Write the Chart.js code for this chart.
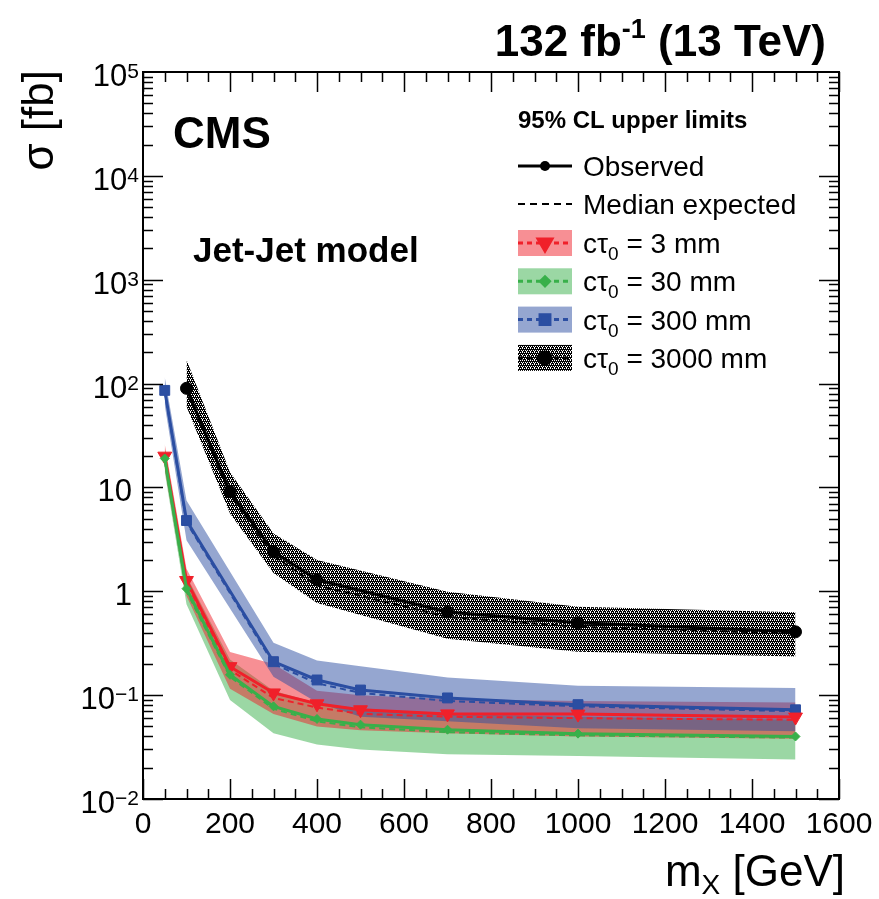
<!DOCTYPE html>
<html>
<head>
<meta charset="utf-8">
<script src="https://cdn.jsdelivr.net/npm/chart.js@4.4.0/dist/chart.umd.min.js"></script>
<style>
  html, body { margin: 0; padding: 0; background: #fff; }
  #wrap { width: 879px; height: 899px; }
</style>
</head>
<body>
<div id="wrap"><canvas id="limits" width="879" height="899"></canvas></div>
<script>
// Signal mass points (GeV)
const massShort = [50, 100, 200, 300, 400, 500, 700, 1000, 1500];
const massMid = [50, 100, 300, 400, 500, 700, 1000, 1500];
const massLong = [100, 200, 300, 400, 700, 1000, 1500];

// 95% CL upper limits on sigma (fb): observed, median expected, +-1 sd band
const obs3mm = [20, 1.27, 0.188, 0.105, 0.0825, 0.0723, 0.066, 0.0657, 0.0615];
const exp3mm = [19, 1.2, 0.175, 0.094, 0.076, 0.066, 0.062, 0.06, 0.058];
const lo3mm = [15, 0.9, 0.115, 0.066, 0.05, 0.046, 0.043, 0.04, 0.038];
const hi3mm = [26, 1.65, 0.26, 0.2, 0.11, 0.1, 0.092, 0.088, 0.085];

const obs30mm = [19, 1.06, 0.157, 0.078, 0.059, 0.052, 0.0465, 0.0426, 0.040];
const exp30mm = [18, 1.0, 0.15, 0.074, 0.056, 0.049, 0.044, 0.041, 0.039];
const lo30mm = [14, 0.75, 0.09, 0.043, 0.0335, 0.03, 0.027, 0.026, 0.024];
const hi30mm = [24, 1.4, 0.22, 0.11, 0.084, 0.074, 0.066, 0.062, 0.058];

const obs300mm = [86, 4.8, 0.21, 0.14, 0.112, 0.094, 0.081, 0.0723];
const exp300mm = [84, 4.6, 0.2, 0.13, 0.105, 0.088, 0.078, 0.07];
const lo300mm = [62, 3.1, 0.15, 0.085, 0.062, 0.056, 0.048, 0.045];
const hi300mm = [115, 7.5, 0.32, 0.215, 0.19, 0.148, 0.123, 0.117];

const obs3000mm = [90, 9.1, 2.4, 1.29, 0.633, 0.497, 0.407];
const exp3000mm = [88, 8.5, 2.2, 1.14, 0.567, 0.455, 0.393];
const lo3000mm = [60, 5.6, 1.5, 0.77, 0.35, 0.262, 0.235];
const hi3000mm = [170, 14, 3.6, 2.0, 0.99, 0.71, 0.63];

const legendLabels = ['3 mm', '30 mm', '300 mm', '3000 mm'];
const xTicks = [0, 200, 400, 600, 800, 1000, 1200, 1400, 1600];
const yDecades = [-2, -1, 0, 1, 2, 3, 4, 5];

const FONT = '"Liberation Sans", Arial, Helvetica, sans-serif';

// dotted tile for the black band (ROOT-like fill style)
function hatch(color, holes) {
    const c = document.createElement('canvas');
    c.width = 4;
    c.height = 4;
    const g = c.getContext('2d');
    g.fillStyle = color;
    g.fillRect(0, 0, 4, 4);
    holes.forEach(([hx, hy]) => g.clearRect(hx, hy, 1, 1));
    return g.createPattern(c, 'repeat');
}

const darkHoles = [[0, 0], [2, 0], [1, 2], [3, 2], [2, 3]];

const series = [
    { name: legendLabels[0], color: '#f0202a', bandFill: 'rgba(240, 32, 42, 0.5)', marker: 'triangle', rot: 180, r: 8,
      mass: massShort, obs: obs3mm, exp: exp3mm, lo: lo3mm, hi: hi3mm, band: 12, line: 2 },
    { name: legendLabels[1], color: '#38b04a', bandFill: 'rgba(56, 176, 74, 0.5)', marker: 'rectRot', rot: 0, r: 4.5,
      mass: massShort, obs: obs30mm, exp: exp30mm, lo: lo30mm, hi: hi30mm, band: 13, line: 1 },
    { name: legendLabels[2], color: '#2b4ea2', bandFill: 'rgba(43, 78, 162, 0.5)', marker: 'rect', rot: 0, r: 7,
      mass: massMid, obs: obs300mm, exp: exp300mm, lo: lo300mm, hi: hi300mm, band: 11, line: 3 },
    { name: legendLabels[3], color: '#000000', bandFill: hatch('#000000', darkHoles), marker: 'circle', rot: 0, r: 6,
      mass: massLong, obs: obs3000mm, exp: exp3000mm, lo: lo3000mm, hi: hi3000mm, band: 10, line: 4 }
];

function buildDatasets() {
    const sets = [];
    series.forEach(s => {
        const pts = ys => s.mass.map((m, j) => ({ x: m, y: ys[j] }));
        const loIndex = sets.length;
        sets.push({ data: pts(s.lo), borderColor: 'transparent', borderWidth: 0, pointRadius: 0,
                    fill: false, order: s.band });
        sets.push({ data: pts(s.hi), borderColor: 'transparent', borderWidth: 0, pointRadius: 0,
                    fill: loIndex, backgroundColor: s.bandFill, order: s.band });
        sets.push({ data: pts(s.exp), borderColor: s.color, borderWidth: 2, borderDash: [6, 4],
                    pointRadius: 0, fill: false, order: 4 + s.line });
        sets.push({ data: pts(s.obs), borderColor: s.color, borderWidth: 3, fill: false,
                    pointStyle: s.marker, pointRotation: s.rot, pointRadius: s.r,
                    pointBackgroundColor: s.color, pointBorderColor: s.color, pointBorderWidth: 1,
                    order: s.line });
    });
    return sets;
}

function drawMarker(ctx, style, x, y, r, rot) {
    Chart.helpers.drawPoint(ctx, { pointStyle: style, radius: r, rotation: rot, borderWidth: 1 }, x, y);
}

// frame, inward ticks, axis labels and all text annotations
const decorations = {
    id: 'decorations',
    afterDraw(chart) {
        const ctx = chart.ctx;
        const a = chart.chartArea;
        const xs = chart.scales.x;
        const ys = chart.scales.y;
        ctx.save();
        ctx.strokeStyle = '#000';
        ctx.fillStyle = '#000';

        // ticks
        ctx.lineWidth = 1.5;
        ctx.beginPath();
        for (let v = 0; v <= 1600; v += 50) {
            const px = Math.round(xs.getPixelForValue(v)) + 0.5;
            const len = v % 200 === 0 ? 20 : 10;
            ctx.moveTo(px, a.bottom); ctx.lineTo(px, a.bottom - len);
            ctx.moveTo(px, a.top); ctx.lineTo(px, a.top + len);
        }
        for (let k = -2; k <= 4; k++) {
            for (let m = 1; m <= 9; m++) {
                const py = Math.round(ys.getPixelForValue(m * Math.pow(10, k))) + 0.5;
                const len = m === 1 ? 20 : 10;
                ctx.moveTo(a.left, py); ctx.lineTo(a.left + len, py);
                ctx.moveTo(a.right, py); ctx.lineTo(a.right - len, py);
            }
        }
        ctx.stroke();

        // frame
        ctx.lineWidth = 2;
        ctx.strokeRect(a.left, a.top, a.right - a.left, a.bottom - a.top);

        // x tick labels
        ctx.font = `30px ${FONT}`;
        ctx.textAlign = 'center';
        ctx.textBaseline = 'alphabetic';
        xTicks.forEach(v => ctx.fillText(String(v), xs.getPixelForValue(v), 833));

        // y tick labels, 10^k
        yDecades.forEach(k => {
            const py = ys.getPixelForValue(Math.pow(10, k));
            ctx.textAlign = 'right';
            if (k === 0 || k === 1) {
                ctx.font = `31px ${FONT}`;
                ctx.fillText(k === 0 ? '1' : '10', 132, py + 14);
                return;
            }
            const ex = k < 0 ? '\u2212' + (-k) : String(k);
            ctx.font = `21px ${FONT}`;
            const ew = ctx.measureText(ex).width;
            ctx.fillText(ex, 139, py + 6);
            ctx.font = `31px ${FONT}`;
            ctx.fillText('10', 139 - ew, py + 14);
        });

        // axis titles
        ctx.save();
        ctx.translate(53, 70);
        ctx.rotate(-Math.PI / 2);
        ctx.font = `44px ${FONT}`;
        ctx.textAlign = 'right';
        ctx.fillText('\u03c3 [fb]', 0, 0);
        ctx.restore();

        ctx.textAlign = 'left';
        ctx.font = `44px ${FONT}`;
        const tail = ' [GeV]';
        const mw = ctx.measureText('m').width;
        const tw = ctx.measureText(tail).width;
        ctx.font = `28px ${FONT}`;
        const sw = ctx.measureText('X').width;
        let x0 = 845 - (mw + sw + tw);
        ctx.font = `44px ${FONT}`;
        ctx.fillText('m', x0, 886);
        ctx.font = `28px ${FONT}`;
        ctx.fillText('X', x0 + mw, 894);
        ctx.font = `44px ${FONT}`;
        ctx.fillText(tail, x0 + mw + sw, 886);

        // luminosity label
        ctx.font = `bold 44px ${FONT}`;
        const lumA = '132 fb', lumC = ' (13 TeV)';
        const wa = ctx.measureText(lumA).width;
        const wc = ctx.measureText(lumC).width;
        ctx.font = `bold 27px ${FONT}`;
        const wb = ctx.measureText('-1').width;
        x0 = 826 - (wa + wb + wc);
        ctx.font = `bold 44px ${FONT}`;
        ctx.fillText(lumA, x0, 56);
        ctx.font = `bold 27px ${FONT}`;
        ctx.fillText('-1', x0 + wa, 38);
        ctx.font = `bold 44px ${FONT}`;
        ctx.fillText(lumC, x0 + wa + wb, 56);

        ctx.font = `bold 44px ${FONT}`;
        ctx.fillText('CMS', 173, 148);
        ctx.font = `bold 35px ${FONT}`;
        ctx.fillText('Jet-Jet model', 193, 262);

        // legend
        const lx0 = 518, lx1 = 572, lxm = 545, tx = 583;
        ctx.font = `bold 24px ${FONT}`;
        ctx.fillText('95% CL upper limits', 518, 128);

        ctx.font = `28px ${FONT}`;
        let ly = 166;
        ctx.lineWidth = 3;
        ctx.beginPath(); ctx.moveTo(lx0, ly); ctx.lineTo(lx1, ly); ctx.stroke();
        ctx.beginPath(); ctx.arc(lxm, ly, 5, 0, Math.PI * 2); ctx.fill();
        ctx.fillText('Observed', tx, ly + 10);

        ly = 204;
        ctx.lineWidth = 2;
        ctx.setLineDash([7, 5]);
        ctx.beginPath(); ctx.moveTo(lx0, ly); ctx.lineTo(lx1, ly); ctx.stroke();
        ctx.setLineDash([]);
        ctx.fillText('Median expected', tx, ly + 10);

        series.forEach((s, i) => {
            const cy = 243 + i * 38.3;
            ctx.fillStyle = s.bandFill;
            ctx.fillRect(lx0, cy - 13, lx1 - lx0, 26);
            ctx.strokeStyle = s.color;
            ctx.lineWidth = 3;
            ctx.setLineDash([5, 4]);
            ctx.beginPath(); ctx.moveTo(lx0, cy); ctx.lineTo(lx1, cy); ctx.stroke();
            ctx.setLineDash([]);
            ctx.fillStyle = s.color;
            ctx.strokeStyle = s.color;
            drawMarker(ctx, s.marker, lxm, cy, s.r, s.rot);

            ctx.fillStyle = '#000';
            ctx.font = `28px ${FONT}`;
            ctx.fillText('c\u03c4', tx, cy + 10);
            const cw = ctx.measureText('c\u03c4').width;
            ctx.font = `19px ${FONT}`;
            ctx.fillText('0', tx + cw, cy + 17);
            const zw = ctx.measureText('0').width;
            ctx.font = `28px ${FONT}`;
            ctx.fillText(' = ' + s.name, tx + cw + zw, cy + 10);
        });

        ctx.restore();
    }
};

class LimitPlot {
    constructor(ctx) {
        this.ctx = ctx;
        this.chart = new Chart(this.ctx, {
            type: 'line',
            data: { datasets: buildDatasets() },
            options: this.chartOptions,
            plugins: [decorations]
        });
    }

    chartOptions = {
        responsive: false,
        animation: false,
        events: [],
        layout: { padding: { left: 143, right: 40, top: 72, bottom: 100 } },
        elements: { line: { tension: 0 } },
        plugins: { legend: { display: false }, tooltip: { enabled: false } },
        scales: {
            x: { type: 'linear', min: 0, max: 1600, display: false },
            y: { type: 'logarithmic', min: 0.01, max: 1e5, display: false }
        }
    };
}

new LimitPlot(document.getElementById('limits').getContext('2d'));
</script>
</body>
</html>
